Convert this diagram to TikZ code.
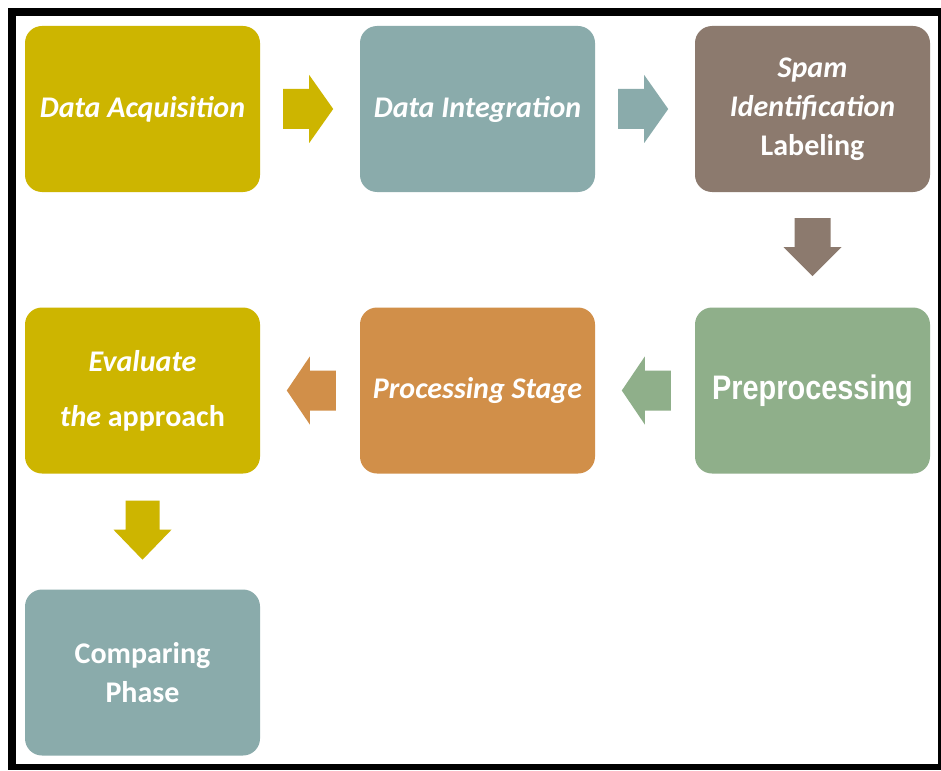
\documentclass[tikz,border=0pt]{standalone}
\usepackage{fontspec}
\setmainfont{Carlito}
\newfontfamily\narrowsans[FakeStretch=0.85]{Liberation Sans}
\usepackage{tikz}
\usetikzlibrary{calc}
\usetikzlibrary{positioning}
\definecolor{oldgold}{RGB}{205, 181, 0}
\definecolor{greyteal}{RGB}{138, 171, 171}
\definecolor{taupe}{RGB}{140, 122, 110}
\definecolor{sage}{RGB}{143, 175, 138}
\definecolor{copper}{RGB}{209, 143, 73}
\tikzset{
  stage/.style={rounded corners=17pt, minimum width=235pt, minimum height=166pt,
                inner sep=0pt, align=center, text=white,
                font=\fontsize{30}{39}\selectfont\bfseries},
}

\begin{document}
\begin{tikzpicture}[x=1pt, y=-1pt]
            % Frame
            \useasboundingbox (0, 0) rectangle (941, 770);
            \fill[black]                                   (8, 8) rectangle (941, 770);
            \fill[white]                                   (16, 16) rectangle (937.5, 764);
            % Top row
            \node[stage, fill=oldgold]  (acq)   at (142.5, 109.0) {\itshape Data Acquisition};
            \node[stage, fill=greyteal] (integ) at (477.5, 109.0) {\itshape Data Integration};
            \node[stage, fill=taupe]    (spam)  at (812.5, 109.0) {\itshape Spam\\\itshape Identification\\\upshape Labeling};
            % Middle row
            \node[stage, fill=sage]     (prep)  at (812.5, 390.5) {\narrowsans\fontsize{34}{39}\selectfont\bfseries Preprocessing};
            \node[stage, fill=copper]   (proc)  at (477.5, 390.5) {\itshape Processing Stage};
            \node[stage, fill=oldgold]  (eval)  at (142.5, 390.5) {\itshape Evaluate\\[16pt]{\itshape the} \upshape approach};
            % Bottom row
            \node[stage, fill=greyteal] (comp)  at (142.5, 672.5) {Comparing\\Phase};
            % Block arrows between the stages
            \fill[oldgold]  ($(acq.east)+(23,-20)$)   -- ++(26,0) -- ++(0,-14) -- ++(24,34) -- ++(-24,34) -- ++(0,-14) -- ++(-26,0) -- cycle;
            \fill[greyteal] ($(integ.east)+(23,-20)$) -- ++(26,0) -- ++(0,-14) -- ++(24,34) -- ++(-24,34) -- ++(0,-14) -- ++(-26,0) -- cycle;
            \fill[taupe]    ($(spam.south)+(-18,26)$) -- ++(0,29) -- ++(-11,0) -- ++(29,29) -- ++(29,-29) -- ++(-11,0) -- ++(0,-29) -- cycle;
            \fill[sage]     ($(prep.west)+(-24,-20)$) -- ++(-26,0) -- ++(0,-14) -- ++(-23,34) -- ++(23,34) -- ++(0,-14) -- ++(26,0) -- cycle;
            \fill[copper]   ($(proc.west)+(-24,-20)$) -- ++(-26,0) -- ++(0,-14) -- ++(-23,34) -- ++(23,34) -- ++(0,-14) -- ++(26,0) -- cycle;
            \fill[oldgold]  ($(eval.south)+(-17,27)$) -- ++(0,29) -- ++(-12,0) -- ++(29,30) -- ++(29,-30) -- ++(-12,0) -- ++(0,-29) -- cycle;
\end{tikzpicture}
\end{document}
